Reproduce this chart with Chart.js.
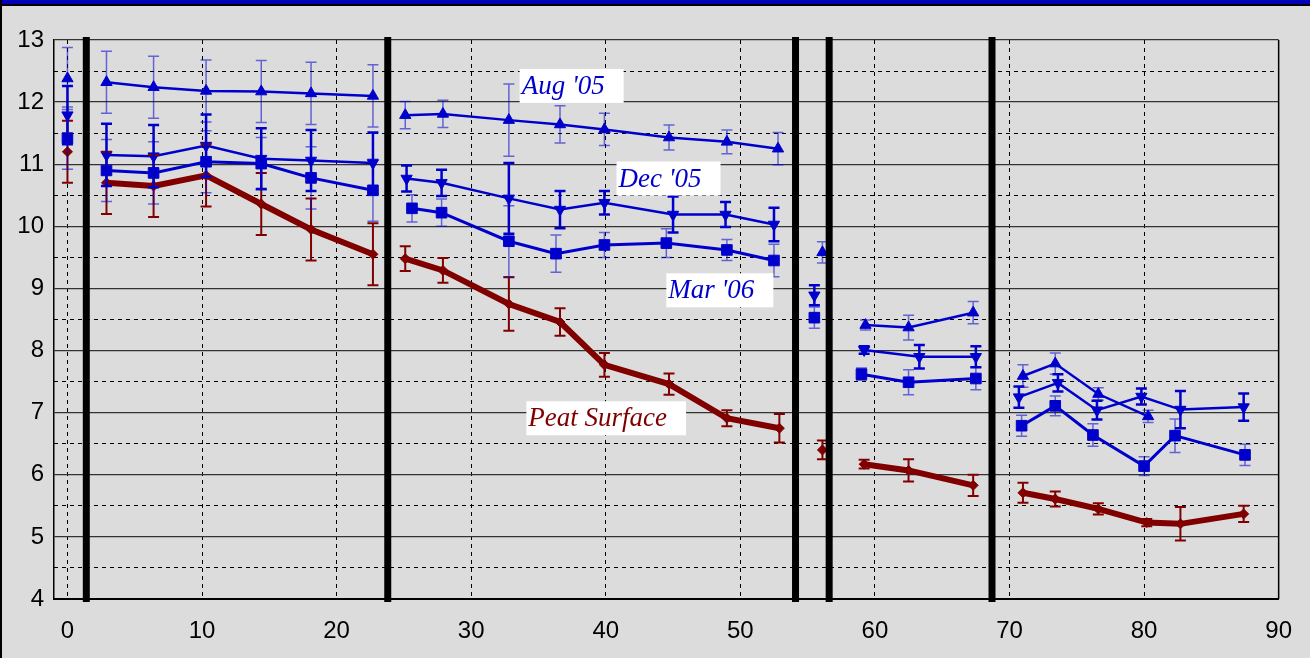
<!DOCTYPE html>
<html>
<head>
<meta charset="utf-8">
<script src="https://cdn.jsdelivr.net/npm/chart.js@4.4.0/dist/chart.umd.min.js"></script>
<style>
    html, body { margin: 0; padding: 0; background: #dcdcdc; }
    #frame { position: relative; width: 1310px; height: 658px; background: #dcdcdc; overflow: hidden; }
    #topbar { position: absolute; left: 0; top: 0; width: 1310px; height: 4px; background: #0000b8; border-bottom: 2px solid #000; }
    #leftbar { position: absolute; left: 0; top: 0; width: 2px; height: 658px; background: #000; }
    canvas { position: absolute; left: 0; top: 0; }
</style>
</head>
<body>
<div id="frame">
    <canvas id="grafico" width="1310" height="658"></canvas>
    <div id="topbar"></div>
    <div id="leftbar"></div>
</div>
<script>
// ticks
const xTicks = [0, 10, 20, 30, 40, 50, 60, 70, 80, 90];
const yTicks = [4, 5, 6, 7, 8, 9, 10, 11, 12, 13];
const yHalfTicks = [4.5, 5.5, 6.5, 7.5, 8.5, 9.5, 10.5, 11.5, 12.5];

// posicoes das divisorias (linhas pretas grossas)
const dividers = [1.4, 23.8, 54.1, 56.6, 68.7];

// Aug '05
const augX = [[0], [2.9, 6.4, 10.3, 14.4, 18.1, 22.7], [25.1, 27.9, 32.8, 36.6, 39.9, 44.7, 49.0, 52.8], [56.1], [59.3, 62.5, 67.3], [71.0, 73.4, 76.6, 80.3]];
const augY = [[12.38], [12.32, 12.24, 12.18, 12.17, 12.14, 12.10], [11.79, 11.81, 11.71, 11.64, 11.56, 11.43, 11.36, 11.25], [9.58], [8.41, 8.37, 8.61], [7.59, 7.79, 7.30, 6.94]];
const augErr = [[0.5], [0.5, 0.5, 0.5, 0.5, 0.5, 0.5], [0.22, 0.22, 0.58, 0.3, 0.26, 0.2, 0.19, 0.26], [0.17], [0.08, 0.2, 0.18], [0.18, 0.17, 0.1, 0.1]];

// Dec '05
const decX = [[0], [2.9, 6.4, 10.3, 14.4, 18.1, 22.7], [25.2, 27.8, 32.8, 36.6, 39.9, 45.0, 48.9, 52.5], [55.5], [59.2, 63.3, 67.5], [70.7, 73.6, 76.5, 79.8, 82.7, 87.4]];
const decY = [[11.79], [11.15, 11.13, 11.30, 11.09, 11.06, 11.02], [10.77, 10.70, 10.45, 10.27, 10.38, 10.19, 10.19, 10.03], [8.89], [8.01, 7.90, 7.90], [7.25, 7.48, 7.04, 7.26, 7.05, 7.09]];
const decErr = [[0.47], [0.5, 0.5, 0.5, 0.49, 0.49, 0.49], [0.21, 0.21, 0.57, 0.3, 0.19, 0.29, 0.2, 0.27], [0.16], [0.06, 0.19, 0.17], [0.17, 0.14, 0.15, 0.13, 0.3, 0.22]];

// Mar '06
const marX = [[0], [2.9, 6.4, 10.3, 14.4, 18.1, 22.7], [25.6, 27.8, 32.8, 36.3, 39.9, 44.5, 49.0, 52.5], [55.5], [59.0, 62.5, 67.5], [70.9, 73.4, 76.2, 80.0, 82.3, 87.5]];
const marY = [[11.42], [10.90, 10.86, 11.04, 11.01, 10.78, 10.58], [10.29, 10.22, 9.76, 9.56, 9.70, 9.73, 9.62, 9.45], [8.53], [7.62, 7.49, 7.55], [6.79, 7.11, 6.64, 6.14, 6.63, 6.32]];
const marErr = [[0.5], [0.5, 0.5, 0.5, 0.42, 0.5, 0.5], [0.22, 0.22, 0.57, 0.3, 0.2, 0.23, 0.17, 0.26], [0.17], [0.1, 0.2, 0.18], [0.17, 0.16, 0.18, 0.15, 0.27, 0.17]];

// Peat Surface
const peatX = [[0], [2.9, 6.4, 10.3, 14.4, 18.1, 22.7], [25.1, 27.9, 32.8, 36.6, 39.9, 44.7, 49.0, 52.9], [56.1], [59.2, 62.5, 67.3], [71.0, 73.4, 76.6, 80.2, 82.7, 87.4]];
const peatY = [[11.2], [10.70, 10.65, 10.82, 10.36, 9.95, 9.55], [9.48, 9.29, 8.75, 8.46, 7.77, 7.46, 6.91, 6.75], [6.40], [6.17, 6.07, 5.83], [5.71, 5.61, 5.45, 5.23, 5.21, 5.37]];
const peatErr = [[0.5], [0.5, 0.5, 0.5, 0.5, 0.5, 0.5], [0.2, 0.2, 0.43, 0.22, 0.19, 0.17, 0.13, 0.23], [0.15], [0.07, 0.18, 0.17], [0.16, 0.12, 0.09, 0.06, 0.27, 0.13]];

// junta os grupos com um ponto nulo entre eles (quebra a linha)
function serie(xs, ys, errs) {
    const pts = [], err = [];
    xs.forEach((g, i) => {
        if (i > 0) { pts.push({ x: g[0], y: null }); err.push(null); }
        g.forEach((x, j) => { pts.push({ x: x, y: ys[i][j] }); err.push(errs[i][j]); });
    });
    return { pts, err };
}

const aug = serie(augX, augY, augErr);
const dec = serie(decX, decY, decErr);
const mar = serie(marX, marY, marErr);
const peat = serie(peatX, peatY, peatErr);

const BLUE = '#0000cc';
const RED = '#800000';

// --- barras de erro ---
const errorBarsPlugin = {
    id: 'errorBars',
    afterDatasetsDraw(chart) {
        const { ctx, scales: { x, y } } = chart;
        chart.data.datasets.forEach(ds => {
            ctx.save();
            ctx.strokeStyle = ds.errColor;
            ctx.lineWidth = ds.errWidth;
            ds.data.forEach((p, i) => {
                const e = ds.errors[i];
                if (p.y === null || !e) return;
                const px = x.getPixelForValue(p.x);
                const top = y.getPixelForValue(p.y + e);
                const bot = y.getPixelForValue(p.y - e);
                ctx.beginPath();
                ctx.moveTo(px, top); ctx.lineTo(px, bot);
                ctx.moveTo(px - 5.5, top); ctx.lineTo(px + 5.5, top);
                ctx.moveTo(px - 5.5, bot); ctx.lineTo(px + 5.5, bot);
                ctx.stroke();
            });
            ctx.restore();
        });
    }
};

// --- divisorias e borda direita ---
const dividersPlugin = {
    id: 'dividers',
    afterDatasetsDraw(chart) {
        const { ctx, chartArea, scales: { x } } = chart;
        ctx.save();
        ctx.strokeStyle = '#000';
        ctx.lineWidth = 1.5;
        ctx.beginPath();
        ctx.moveTo(chartArea.right, chartArea.top);
        ctx.lineTo(chartArea.right, chartArea.bottom);
        ctx.stroke();
        ctx.lineWidth = 7;
        dividers.forEach(v => {
            const px = x.getPixelForValue(v);
            ctx.beginPath();
            ctx.moveTo(px, chartArea.top - 3);
            ctx.lineTo(px, chartArea.bottom + 3);
            ctx.stroke();
        });
        ctx.restore();
    }
};

// --- rotulos das series ---
const seriesLabelsPlugin = {
    id: 'seriesLabels',
    afterDraw(chart, args, opts) {
        const { ctx, scales: { x, y } } = chart;
        ctx.save();
        ctx.font = 'italic 27px "Liberation Serif", "Times New Roman", serif';
        ctx.textBaseline = 'middle';
        opts.items.forEach(it => {
            const px = x.getPixelForValue(it.x);
            const py = y.getPixelForValue(it.y);
            const w = ctx.measureText(it.text).width;
            ctx.fillStyle = '#fff';
            ctx.fillRect(px, py - 17, w + 21, 34);
            ctx.fillStyle = it.color;
            ctx.fillText(it.text, px + 2, py + 1);
        });
        ctx.restore();
    }
};

Chart.defaults.font.family = '"Liberation Sans", Arial, sans-serif';
Chart.defaults.color = '#000';

const ctx = document.getElementById('grafico');
new Chart(ctx, {
    type: 'scatter',
    data: {
        datasets: [
            {
                label: 'Peat Surface', data: peat.pts, errors: peat.err,
                showLine: true, spanGaps: false,
                borderColor: RED, backgroundColor: RED, borderWidth: 6,
                pointStyle: 'rectRot', pointRadius: 5, pointBorderWidth: 1,
                errColor: RED, errWidth: 2
            },
            {
                label: "Mar '06", data: mar.pts, errors: mar.err,
                showLine: true, spanGaps: false,
                borderColor: BLUE, backgroundColor: BLUE, borderWidth: 3,
                pointStyle: 'rect', pointRadius: 7.5, pointBorderWidth: 1,
                errColor: 'rgba(0, 0, 204, 0.55)', errWidth: 1.5
            },
            {
                label: "Dec '05", data: dec.pts, errors: dec.err,
                showLine: true, spanGaps: false,
                borderColor: BLUE, backgroundColor: BLUE, borderWidth: 2.5,
                pointStyle: 'triangle', pointRotation: 180, pointRadius: 6.5, pointBorderWidth: 1,
                errColor: BLUE, errWidth: 2.5
            },
            {
                label: "Aug '05", data: aug.pts, errors: aug.err,
                showLine: true, spanGaps: false,
                borderColor: BLUE, backgroundColor: BLUE, borderWidth: 2.5,
                pointStyle: 'triangle', pointRadius: 6.5, pointBorderWidth: 1,
                errColor: 'rgba(0, 0, 204, 0.55)', errWidth: 1.5
            }
        ]
    },
    options: {
        responsive: false,
        animation: false,
        layout: { padding: { top: 40, right: 24, left: 0, bottom: 0 } },
        plugins: {
            legend: { display: false },
            tooltip: { enabled: false },
            seriesLabels: {
                items: [
                    { text: "Aug '05", x: 33.6, y: 12.26, color: BLUE },
                    { text: "Dec '05", x: 40.8, y: 10.77, color: BLUE },
                    { text: "Mar '06", x: 44.5, y: 8.97, color: BLUE },
                    { text: 'Peat Surface', x: 34.1, y: 6.91, color: RED }
                ]
            }
        },
        scales: {
            x: {
                type: 'linear', min: -1, max: 90,
                afterBuildTicks: s => { s.ticks = xTicks.map(v => ({ value: v })); },
                afterFit: s => { s.height = 59; },
                grid: { color: '#000', lineWidth: 1, drawTicks: false },
                border: { display: true, color: '#000', width: 2, dash: [4, 4] },
                ticks: { padding: 18, font: { size: 24 }, maxRotation: 0, autoSkip: false }
            },
            y: {
                position: 'left', min: 4, max: 13,
                afterBuildTicks: s => { s.ticks = yTicks.map(v => ({ value: v })); },
                afterFit: s => { s.width = 54; },
                grid: { color: '#333', lineWidth: 1.3, drawTicks: false },
                border: { display: true, color: '#000', width: 1.5 },
                ticks: { padding: 10, font: { size: 24 } }
            },
            y2: {
                position: 'left', min: 4, max: 13,
                afterBuildTicks: s => { s.ticks = yHalfTicks.map(v => ({ value: v })); },
                afterFit: s => { s.width = 0; },
                grid: { color: '#000', lineWidth: 1, drawTicks: false },
                border: { display: false, dash: [4, 4] },
                ticks: { display: false }
            }
        }
    },
    plugins: [errorBarsPlugin, dividersPlugin, seriesLabelsPlugin]
});
</script>
</body>
</html>
